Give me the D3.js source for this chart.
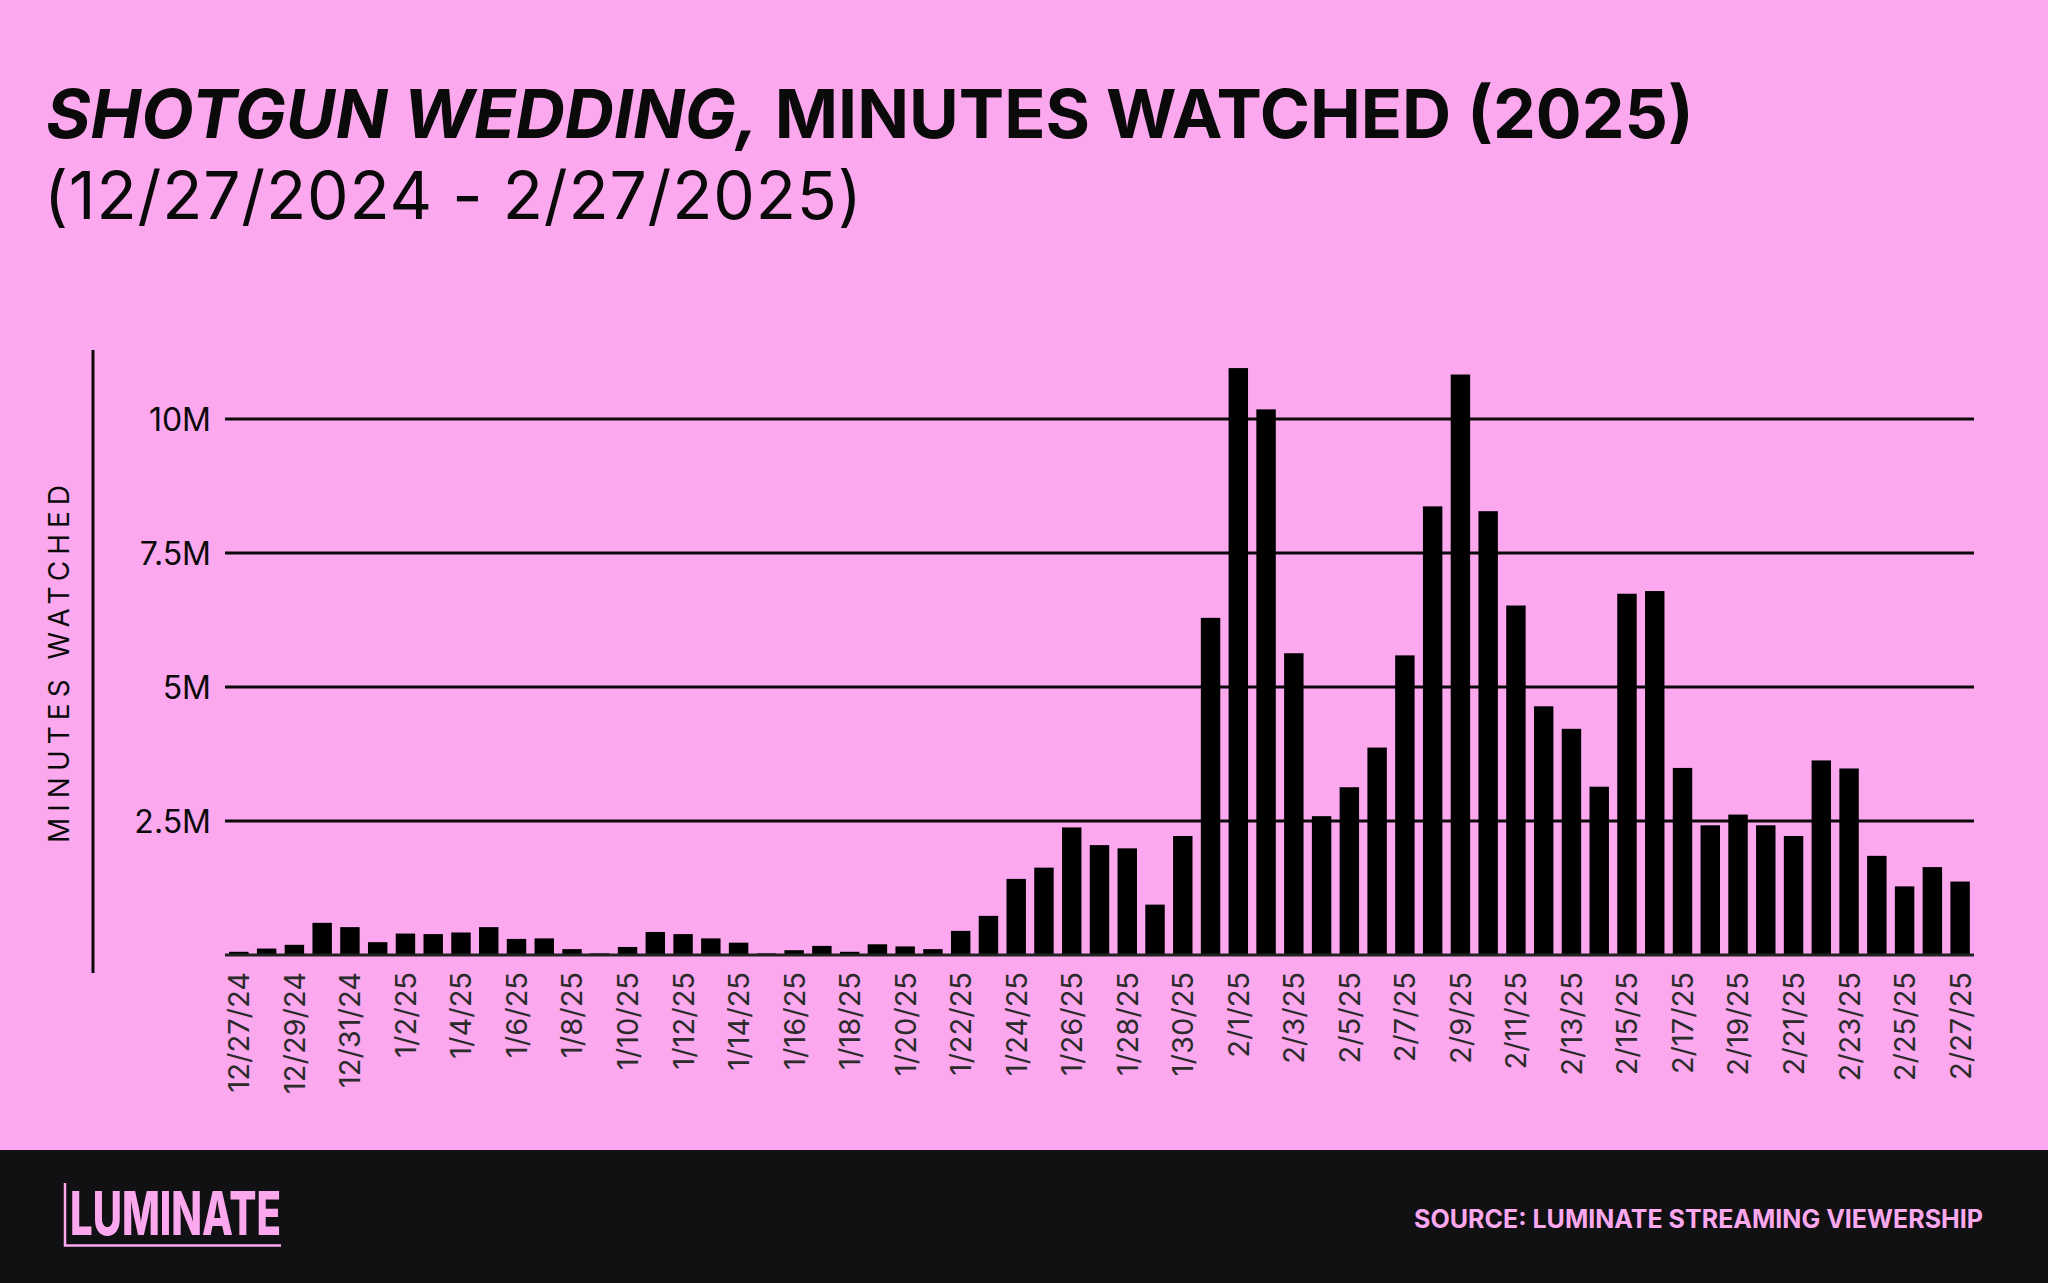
<!DOCTYPE html>
<html lang="en">
<head>
    <meta charset="UTF-8">
    <title>Shotgun Wedding, Minutes Watched (2025)</title>
    <style>
        body {
            margin: 0;
            background: #fca8ef;
        }
        svg {
            display: block;
            font-family: Inter, "Noto Sans", sans-serif;
        }
    </style>
</head>
<body>
    <div id="chart"></div>

    <script src="https://d3js.org/d3.v7.min.js"></script>
    <script>
        // Daily dates shown on the x axis
        const days = [
            "12/27/24", "12/28/24", "12/29/24", "12/30/24", "12/31/24",
            "1/1/25", "1/2/25", "1/3/25", "1/4/25", "1/5/25", "1/6/25", "1/7/25", "1/8/25",
            "1/9/25", "1/10/25", "1/11/25", "1/12/25", "1/13/25", "1/14/25", "1/15/25",
            "1/16/25", "1/17/25", "1/18/25", "1/19/25", "1/20/25", "1/21/25", "1/22/25",
            "1/23/25", "1/24/25", "1/25/25", "1/26/25", "1/27/25", "1/28/25", "1/29/25",
            "1/30/25", "1/31/25",
            "2/1/25", "2/2/25", "2/3/25", "2/4/25", "2/5/25", "2/6/25", "2/7/25", "2/8/25",
            "2/9/25", "2/10/25", "2/11/25", "2/12/25", "2/13/25", "2/14/25", "2/15/25",
            "2/16/25", "2/17/25", "2/18/25", "2/19/25", "2/20/25", "2/21/25", "2/22/25",
            "2/23/25", "2/24/25", "2/25/25", "2/26/25", "2/27/25"
        ];

        // Minutes watched, in millions
        const minutes = [
            0.06, 0.12, 0.19, 0.60, 0.52, 0.24, 0.40, 0.39, 0.42, 0.52,
            0.30, 0.31, 0.11, 0.03, 0.15, 0.43, 0.39, 0.31, 0.23, 0.03,
            0.09, 0.17, 0.06, 0.20, 0.16, 0.11, 0.45, 0.73, 1.42, 1.63,
            2.38, 2.05, 1.99, 0.94, 2.22, 6.29, 10.95, 10.18, 5.63, 2.59,
            3.13, 3.87, 5.59, 8.37, 10.83, 8.28, 6.52, 4.64, 4.22, 3.14,
            6.74, 6.79, 3.49, 2.42, 2.62, 2.42, 2.22, 3.63, 3.48, 1.85,
            1.28, 1.64, 1.37
        ];

        const yTicks = [2.5, 5, 7.5, 10];
        const yTickLabels = ["2.5M", "5M", "7.5M", "10M"];

        const width = 2048, height = 1283;
        const pink = "#fca8ef";
        const ink = "#0a0a0a";

        const svg = d3.select("#chart")
            .append("svg")
            .attr("width", width)
            .attr("height", height);

        svg.append("rect")
            .attr("width", width)
            .attr("height", height)
            .attr("fill", pink);

        // Title
        const title = svg.append("text")
            .attr("x", 46)
            .attr("y", 138)
            .attr("font-size", 68)
            .attr("font-weight", 700)
            .attr("fill", ink);
        title.append("tspan").attr("font-style", "italic").text("SHOTGUN WEDDING,");
        title.append("tspan").text(" MINUTES WATCHED (2025)");

        svg.append("text")
            .attr("x", 44)
            .attr("y", 219)
            .attr("font-size", 66)
            .attr("font-weight", 400)
            .attr("letter-spacing", 0.8)
            .attr("fill", ink)
            .text("(12/27/2024 - 2/27/2025)");

        // Scales
        const x = d3.scaleBand()
            .domain(days)
            .range([225, 1974])
            .paddingInner(0.3)
            .paddingOuter(0.15);

        const y = d3.scaleLinear()
            .domain([0, 10])
            .range([955, 419]);

        // Gridlines
        svg.append("g")
            .selectAll("line")
            .data(yTicks)
            .join("line")
            .attr("x1", 225)
            .attr("x2", 1974)
            .attr("y1", d => y(d))
            .attr("y2", d => y(d))
            .attr("stroke", ink)
            .attr("stroke-width", 3);

        // Y tick labels
        svg.append("g")
            .selectAll("text")
            .data(yTicks)
            .join("text")
            .attr("x", 211)
            .attr("y", d => y(d))
            .attr("dy", "0.36em")
            .attr("text-anchor", "end")
            .attr("font-size", 32)
            .attr("fill", ink)
            .text((d, i) => yTickLabels[i]);

        // Bars
        svg.append("g")
            .selectAll("rect")
            .data(minutes)
            .join("rect")
            .attr("x", (d, i) => x(days[i]))
            .attr("y", d => y(d))
            .attr("width", x.bandwidth())
            .attr("height", d => y(0) - y(d))
            .attr("fill", "#000");

        // Baseline
        svg.append("line")
            .attr("x1", 225)
            .attr("x2", 1974)
            .attr("y1", y(0))
            .attr("y2", y(0))
            .attr("stroke", "#222")
            .attr("stroke-width", 3);

        // X labels, every second day
        svg.append("g")
            .selectAll("text")
            .data(days.filter((d, i) => i % 2 === 0))
            .join("text")
            .attr("transform", d => `translate(${x(d) + x.bandwidth() / 2},972) rotate(-90)`)
            .attr("dy", "0.36em")
            .attr("text-anchor", "end")
            .attr("font-size", 29)
            .attr("fill", "#2b2b2b")
            .text(d => d);

        // Vertical axis line and title
        svg.append("line")
            .attr("x1", 93)
            .attr("x2", 93)
            .attr("y1", 350)
            .attr("y2", 973)
            .attr("stroke", ink)
            .attr("stroke-width", 3);

        svg.append("text")
            .attr("transform", "translate(59,661) rotate(-90)")
            .attr("dy", "0.36em")
            .attr("text-anchor", "middle")
            .attr("font-size", 28)
            .attr("letter-spacing", 6)
            .attr("fill", ink)
            .text("MINUTES WATCHED");

        // Footer
        svg.append("rect")
            .attr("y", 1150)
            .attr("width", width)
            .attr("height", height - 1150)
            .attr("fill", "#111114");

        svg.append("text")
            .attr("x", 70)
            .attr("y", 1235)
            .attr("font-size", 60)
            .attr("font-weight", 800)
            .attr("fill", pink)
            .attr("textLength", 211)
            .attr("lengthAdjust", "spacingAndGlyphs")
            .text("LUMINATE");

        svg.append("path")
            .attr("d", "M65,1183 V1245.5 H281")
            .attr("fill", "none")
            .attr("stroke", pink)
            .attr("stroke-width", 2.5);

        svg.append("text")
            .attr("x", 1414)
            .attr("y", 1228)
            .attr("font-size", 25)
            .attr("font-weight", 700)
            .attr("fill", pink)
            .attr("textLength", 569)
            .attr("lengthAdjust", "spacingAndGlyphs")
            .text("SOURCE: LUMINATE STREAMING VIEWERSHIP");
    </script>
</body>
</html>
